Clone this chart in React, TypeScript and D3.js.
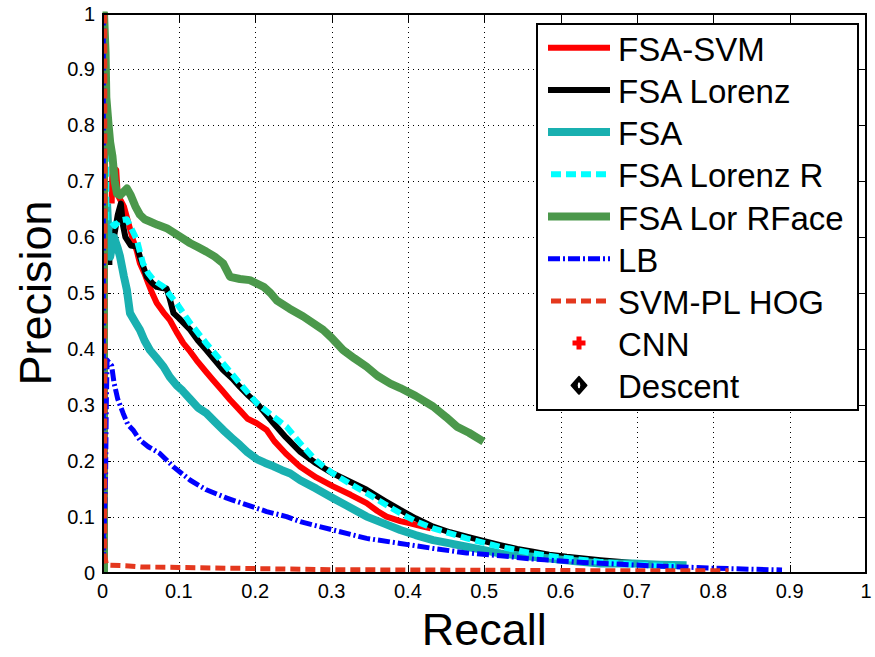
import React from "react";
import * as d3 from "d3";

type P = [number, number];

const xTicks = [0, 0.1, 0.2, 0.3, 0.4, 0.5, 0.6, 0.7, 0.8, 0.9, 1];
const yTicks = [0, 0.1, 0.2, 0.3, 0.4, 0.5, 0.6, 0.7, 0.8, 0.9, 1];
const tickLabels = ["0", "0.1", "0.2", "0.3", "0.4", "0.5", "0.6", "0.7", "0.8", "0.9", "1"];

const fsaSvm: P[] = [[0.012,0.66],[0.013,0.725],[0.018,0.72],[0.02,0.675],[0.024,0.665],[0.028,0.655],[0.033,0.63],[0.037,0.61],[0.04,0.595],[0.045,0.575],[0.049,0.553],[0.055,0.535],[0.06,0.517],[0.065,0.5],[0.071,0.482],[0.08,0.465],[0.088,0.452],[0.097,0.43],[0.106,0.41],[0.115,0.395],[0.123,0.38],[0.135,0.36],[0.145,0.344],[0.157,0.325],[0.167,0.309],[0.18,0.29],[0.19,0.275],[0.202,0.267],[0.215,0.255],[0.225,0.235],[0.24,0.213],[0.259,0.189],[0.28,0.17],[0.302,0.154],[0.325,0.139],[0.346,0.124],[0.36,0.11],[0.372,0.1],[0.39,0.092],[0.403,0.088],[0.42,0.082],[0.43,0.079]];

const fsaLorenz: P[] = [[0.009,0.55],[0.009,0.57],[0.015,0.6],[0.02,0.64],[0.024,0.66],[0.027,0.62],[0.03,0.6],[0.037,0.585],[0.045,0.583],[0.049,0.565],[0.054,0.545],[0.058,0.529],[0.065,0.518],[0.071,0.511],[0.078,0.509],[0.084,0.508],[0.088,0.49],[0.093,0.464],[0.1,0.455],[0.115,0.434],[0.125,0.415],[0.136,0.398],[0.147,0.38],[0.158,0.362],[0.17,0.347],[0.18,0.332],[0.19,0.318],[0.202,0.303],[0.213,0.285],[0.224,0.267],[0.24,0.242],[0.259,0.216],[0.28,0.195],[0.302,0.177],[0.325,0.162],[0.346,0.148],[0.37,0.128],[0.39,0.112],[0.41,0.097],[0.433,0.082],[0.455,0.072],[0.477,0.064],[0.5,0.056],[0.521,0.049],[0.543,0.042],[0.564,0.037],[0.585,0.032],[0.608,0.028],[0.63,0.025],[0.652,0.022],[0.68,0.019],[0.7,0.016]];

const fsa: P[] = [[0.006,0.66],[0.008,0.6],[0.01,0.565],[0.015,0.6],[0.02,0.58],[0.023,0.565],[0.028,0.53],[0.032,0.505],[0.036,0.464],[0.042,0.45],[0.049,0.434],[0.055,0.415],[0.062,0.398],[0.07,0.385],[0.08,0.368],[0.088,0.35],[0.097,0.335],[0.105,0.325],[0.115,0.31],[0.125,0.295],[0.136,0.285],[0.147,0.27],[0.158,0.255],[0.17,0.24],[0.18,0.228],[0.19,0.215],[0.202,0.203],[0.213,0.196],[0.224,0.19],[0.235,0.183],[0.246,0.177],[0.259,0.165],[0.28,0.15],[0.302,0.133],[0.325,0.116],[0.346,0.1],[0.37,0.087],[0.39,0.076],[0.41,0.067],[0.433,0.058],[0.455,0.052],[0.477,0.046],[0.5,0.04],[0.521,0.034],[0.55,0.03],[0.586,0.025],[0.62,0.02],[0.652,0.016],[0.695,0.016],[0.73,0.014],[0.765,0.013]];

const fsaLorenzR: P[] = [[0.005,0.86],[0.005,0.63],[0.01,0.63],[0.016,0.62],[0.023,0.63],[0.032,0.632],[0.038,0.615],[0.045,0.595],[0.053,0.553],[0.06,0.535],[0.067,0.523],[0.08,0.511],[0.088,0.497],[0.097,0.482],[0.115,0.446],[0.136,0.41],[0.158,0.374],[0.18,0.338],[0.202,0.303],[0.22,0.283],[0.241,0.261],[0.259,0.231],[0.28,0.2],[0.302,0.177],[0.325,0.158],[0.346,0.142],[0.37,0.122],[0.39,0.106],[0.41,0.092],[0.433,0.079],[0.455,0.07],[0.477,0.061],[0.5,0.053],[0.521,0.046],[0.543,0.04],[0.564,0.034],[0.6,0.027],[0.652,0.019],[0.7,0.014],[0.75,0.011]];

const fsaLorRFace: P[] = [[0.002,0],[0.002,1],[0.004,0.93],[0.005,0.85],[0.008,0.8],[0.01,0.77],[0.013,0.745],[0.016,0.7],[0.019,0.678],[0.023,0.675],[0.027,0.68],[0.032,0.687],[0.037,0.675],[0.043,0.655],[0.049,0.64],[0.055,0.632],[0.062,0.628],[0.072,0.622],[0.084,0.616],[0.1,0.602],[0.115,0.589],[0.125,0.582],[0.136,0.574],[0.147,0.565],[0.158,0.553],[0.167,0.529],[0.18,0.525],[0.193,0.523],[0.211,0.511],[0.22,0.5],[0.228,0.487],[0.245,0.472],[0.263,0.458],[0.289,0.434],[0.3,0.42],[0.315,0.398],[0.33,0.383],[0.346,0.368],[0.36,0.352],[0.377,0.338],[0.39,0.33],[0.41,0.316],[0.433,0.297],[0.45,0.278],[0.464,0.261],[0.48,0.25],[0.499,0.234]];

const lb: P[] = [[0.001,1],[0.001,0.02],[0.004,0.17],[0.005,0.3],[0.006,0.38],[0.012,0.37],[0.015,0.34],[0.02,0.31],[0.027,0.285],[0.033,0.265],[0.04,0.255],[0.049,0.237],[0.06,0.225],[0.075,0.213],[0.093,0.189],[0.115,0.165],[0.136,0.148],[0.163,0.133],[0.189,0.121],[0.215,0.109],[0.241,0.1],[0.259,0.091],[0.302,0.076],[0.346,0.061],[0.39,0.052],[0.433,0.043],[0.477,0.035],[0.521,0.03],[0.564,0.024],[0.63,0.018],[0.717,0.012],[0.804,0.0075],[0.89,0.0045]];

const svmPlHog: P[] = [[0.003,1],[0.003,0.03],[0.005,0.015],[0.01,0.013],[0.03,0.012],[0.05,0.01],[0.1,0.009],[0.2,0.007],[0.3,0.005],[0.4,0.0045],[0.5,0.004],[0.6,0.0035],[0.7,0.003],[0.82,0.003]];

const seriesNames = ["FSA-SVM", "FSA Lorenz", "FSA", "FSA Lorenz R", "FSA Lor RFace", "LB", "SVM-PL HOG", "CNN", "Descent"];

const series = [
  { name: seriesNames[0], data: fsaSvm, color: "#ff0000", width: 6, dash: "" },
  { name: seriesNames[1], data: fsaLorenz, color: "#000000", width: 6, dash: "" },
  { name: seriesNames[2], data: fsa, color: "#19b0b0", width: 8, dash: "" },
  { name: seriesNames[3], data: fsaLorenzR, color: "#00ffff", width: 6, dash: "10,5" },
  { name: seriesNames[4], data: fsaLorRFace, color: "#4b984b", width: 8, dash: "" },
  { name: seriesNames[5], data: lb, color: "#0000ff", width: 5, dash: "12,3,2,3" },
  { name: seriesNames[6], data: svmPlHog, color: "#e4381e", width: 5, dash: "10,5" },
];

const W = 875, H = 657;
const X0 = 102.5, X1 = 866, Y0 = 572.5, Y1 = 13.5;
const FONT = "'Liberation Sans', Arial, Helvetica, sans-serif";

export default function App() {
  const x = d3.scaleLinear().domain([0, 1]).range([X0, X1]);
  const y = d3.scaleLinear().domain([0, 1]).range([Y0, Y1]);
  const line = d3.line<P>().x(d => x(d[0])).y(d => y(d[1]));
  const px = (v: number) => Math.round(v) + 0.5;

  const legX = 537, legY = 24, legW = 321, legH = 386;
  const rowY = (i: number) => 47.7 + i * 42.2;

  return (
    <svg width={W} height={H} style={{ position: "absolute", left: 0, top: 0, background: "#fff" }} fontFamily={FONT}>
      <rect x={0} y={0} width={W} height={H} fill="#fff" />
      {/* grid */}
      <g shapeRendering="crispEdges">
        {xTicks.slice(1, -1).map(t => (
          <line key={"gx" + t} x1={px(x(t))} x2={px(x(t))} y1={Y0} y2={Y1} stroke="#000" strokeWidth={1} strokeDasharray="1,4" />
        ))}
        {yTicks.slice(1, -1).map(t => (
          <line key={"gy" + t} x1={X0} x2={X1} y1={px(y(t))} y2={px(y(t))} stroke="#000" strokeWidth={1} strokeDasharray="1,4" />
        ))}
        {/* ticks */}
        {xTicks.map(t => (
          <g key={"tx" + t}>
            <line x1={px(x(t))} x2={px(x(t))} y1={Y0} y2={Y0 - 8} stroke="#000" strokeWidth={1} />
            <line x1={px(x(t))} x2={px(x(t))} y1={Y1} y2={Y1 + 8} stroke="#000" strokeWidth={1} />
          </g>
        ))}
        {yTicks.map(t => (
          <g key={"ty" + t}>
            <line x1={X0} x2={X0 + 8} y1={px(y(t))} y2={px(y(t))} stroke="#000" strokeWidth={1} />
            <line x1={X1} x2={X1 - 8} y1={px(y(t))} y2={px(y(t))} stroke="#000" strokeWidth={1} />
          </g>
        ))}
      </g>
      {/* curves */}
      <defs>
        <clipPath id="plotclip">
          <rect x={X0} y={Y1 - 2} width={X1 - X0} height={Y0 - Y1 + 2} />
        </clipPath>
      </defs>
      <g clipPath="url(#plotclip)">
        {series.map(s => (
          <path key={s.name} d={line(s.data) || ""} fill="none" stroke={s.color} strokeWidth={s.width}
            strokeDasharray={s.dash || undefined} strokeLinejoin="round" strokeLinecap="butt" />
        ))}
      </g>
      {/* axes box */}
      <rect x={X0} y={Y1} width={X1 - X0} height={Y0 - Y1} fill="none" stroke="#000" strokeWidth={2} shapeRendering="crispEdges" />
      {/* tick labels */}
      {xTicks.map((t, i) => (
        <text key={"lx" + t} x={x(t)} y={598} textAnchor="middle" fontSize={20} fill="#000">{tickLabels[i]}</text>
      ))}
      {yTicks.map((t, i) => (
        <text key={"ly" + t} x={95} y={y(t) + 7} textAnchor="end" fontSize={20} fill="#000">{tickLabels[i]}</text>
      ))}
      {/* axis labels */}
      <text x={(X0 + X1) / 2} y={645} textAnchor="middle" fontSize={45} fill="#000">Recall</text>
      <text transform={`translate(51, ${(Y0 + Y1) / 2}) rotate(-90)`} textAnchor="middle" fontSize={45} fill="#000">Precision</text>
      {/* legend */}
      <rect x={legX} y={legY} width={legW} height={legH} fill="#fff" stroke="#000" strokeWidth={1.5} shapeRendering="crispEdges" />
      {series.map((s, i) => (
        <g key={"leg" + s.name}>
          <line x1={548} x2={610} y1={rowY(i)} y2={rowY(i)} stroke={s.color} strokeWidth={s.width}
            strokeDasharray={s.dash || undefined}
            strokeDashoffset={s.dash === "10,5" ? -3 : 0} />
          <text x={618} y={rowY(i) + 13} fontSize={33} fill="#000">{s.name}</text>
        </g>
      ))}
      {/* CNN marker */}
      <g transform={`translate(579, ${rowY(7)})`}>
        <path d="M-2.5,-6.5 H2.5 V-2.5 H6.5 V2.5 H2.5 V6.5 H-2.5 V2.5 H-6.5 V-2.5 H-2.5 Z" fill="#ff0000" />
      </g>
      <text x={618} y={rowY(7) + 13} fontSize={33} fill="#000">{seriesNames[7]}</text>
      {/* Descent marker */}
      <g transform={`translate(579, ${rowY(8)})`}>
        <path d="M0,-8.5 L7.5,0 L0,8.5 L-7.5,0 Z" fill="#000" stroke="#000" strokeWidth={2} strokeLinejoin="round" />
        <ellipse cx={0} cy={0} rx={1.2} ry={3} fill="#fff" />
      </g>
      <text x={618} y={rowY(8) + 13} fontSize={33} fill="#000">{seriesNames[8]}</text>
    </svg>
  );
}
